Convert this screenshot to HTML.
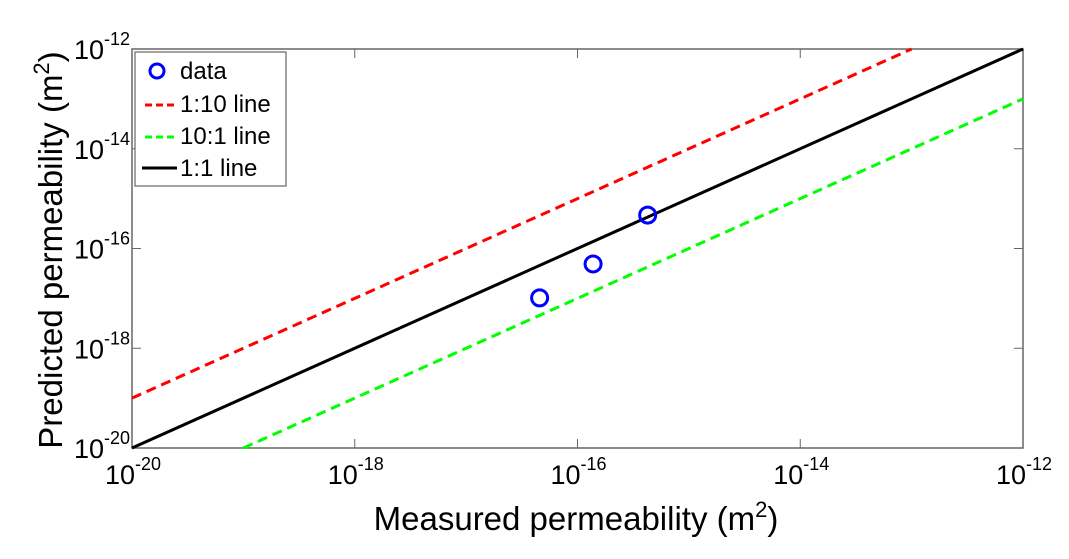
<!DOCTYPE html>
<html><head><meta charset="utf-8"><style>
body{margin:0;background:#fff;width:1069px;height:554px;overflow:hidden}
svg{font-family:"Liberation Sans",Arial,sans-serif}
</style></head><body>
<svg width="1069" height="554">
<g id="g"></g>
</svg>
<script>
const xTicks=[-20,-18,-16,-14,-12];
const yTicks=[-20,-18,-16,-14,-12];
const dataX=[-16.34,-15.86,-15.37];
const dataY=[-16.99,-16.31,-15.33];
const lineOneX=[-20,-12];
const lineOneY=[-20,-12];
const lineRedX=[-20,-13];
const lineRedY=[-19,-12];
const lineGreenX=[-19,-12];
const lineGreenY=[-20,-13];
const L=132,R=1023,T=49,B=448;
const sx=v=>L+(v+20)/8*(R-L);
const sy=v=>B-(v+20)/8*(B-T);
const NS='http://www.w3.org/2000/svg';
const g=document.getElementById('g');
function mk(t,a,p){const e=document.createElementNS(NS,t);for(const k in a)e.setAttribute(k,a[k]);(p||g).appendChild(e);return e;}
let e;
e=mk('rect',{x:L,y:T,width:R-L,height:B-T,fill:'#fff',stroke:'#666','stroke-width':1.5});


xTicks.forEach(t=>{
 e=mk('line',{x1:sx(t),x2:sx(t),y1:B,y2:B-9,stroke:'#666'});
 
 
 e=mk('line',{x1:sx(t),x2:sx(t),y1:T,y2:T+9,stroke:'#666'});
 
 
 e=mk('text',{x:sx(t)-27,y:B+36,'font-size':27,fill:'#000'});
 e.innerHTML='10<tspan dy="-14" font-size="18">'+t+'</tspan>';
 
 
});
yTicks.forEach(t=>{
 e=mk('line',{x1:L,x2:L+9,y1:sy(t),y2:sy(t),stroke:'#666'});
 
 
 e=mk('line',{x1:R,x2:R-9,y1:sy(t),y2:sy(t),stroke:'#666'});
 
 
 e=mk('text',{x:L-2,y:sy(t)+10,'font-size':27,fill:'#000','text-anchor':'end'});
 e.innerHTML='10<tspan dy="-14" font-size="18">'+t+'</tspan>';
 
 
});
function ln(xs,ys,col,dash,name){
 const a={x1:sx(xs[0]),y1:sy(ys[0]),x2:sx(xs[1]),y2:sy(ys[1]),stroke:col,'stroke-width':3};
 if(dash)a['stroke-dasharray']='10,6';
 e=mk('line',a);
 
 
}
ln(lineRedX,lineRedY,'#f00',1,'line-1-10');
ln(lineGreenX,lineGreenY,'#0f0',1,'line-10-1');
ln(lineOneX,lineOneY,'#000',0,'line-1-1');
dataX.forEach((x,i)=>{
 e=mk('circle',{cx:sx(x),cy:sy(dataY[i]),r:8,fill:'none',stroke:'#00f','stroke-width':3});
 
 
});
e=mk('text',{x:576,y:530,'font-size':33,'text-anchor':'middle'});
e.innerHTML='Measured permeability (m<tspan dy="-13" font-size="22">2</tspan><tspan dy="13">)</tspan>';


e=mk('text',{x:0,y:0,'font-size':33,'text-anchor':'middle',transform:'translate(62,250) rotate(-90)'});
e.innerHTML='Predicted permeability (m<tspan dy="-13" font-size="22">2</tspan><tspan dy="13">)</tspan>';


const lg=mk('g',{});


mk('rect',{x:135,y:52,width:151,height:134,fill:'#fff',stroke:'#666','stroke-width':1.2},lg);
mk('circle',{cx:157,cy:71,r:7,fill:'none',stroke:'#00f','stroke-width':3},lg);
mk('line',{x1:145,x2:177,y1:105,y2:105,stroke:'#f00','stroke-width':3,'stroke-dasharray':'7,4'},lg);
mk('line',{x1:145,x2:177,y1:137,y2:137,stroke:'#0f0','stroke-width':3,'stroke-dasharray':'7,4'},lg);
mk('line',{x1:142,x2:177,y1:168,y2:168,stroke:'#000','stroke-width':3},lg);
[['data',79],['1:10 line',112],['10:1 line',144],['1:1 line',176]].forEach(([t,y])=>{
 const tx=mk('text',{x:180,y:y,'font-size':24},lg);tx.textContent=t;
 
 
});
</script>
</body></html>
